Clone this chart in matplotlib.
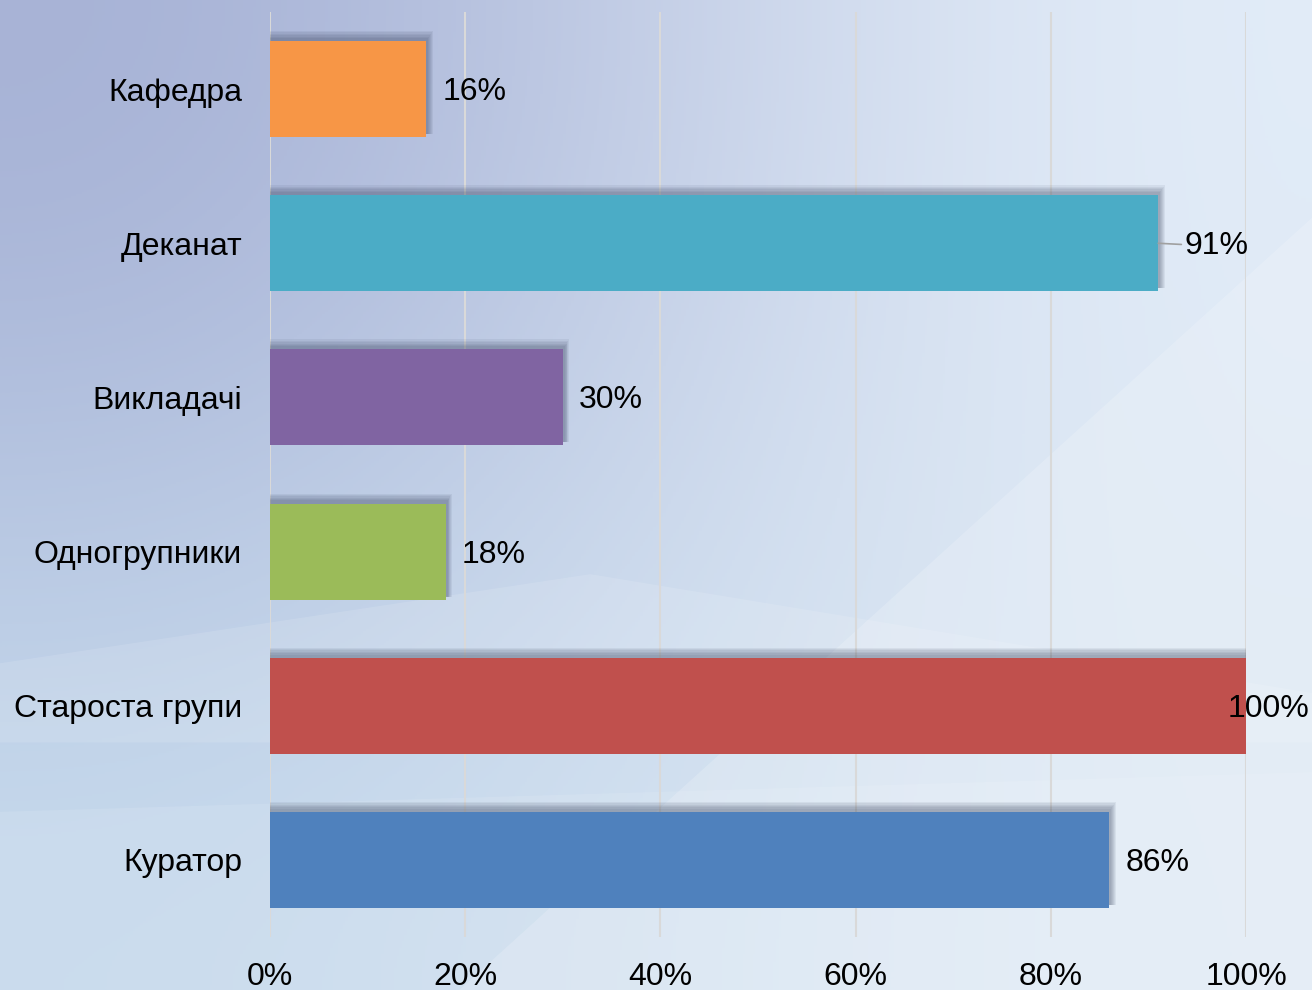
import numpy as np
import matplotlib
matplotlib.use("Agg")
import matplotlib.pyplot as plt
from matplotlib.patches import Polygon

categories = ["Куратор", "Староста групи", "Одногрупники", "Викладачі", "Деканат", "Кафедра"]
values = [86, 100, 18, 30, 91, 16]
colors = ["#4F81BD", "#C0504D", "#9BBB59", "#8064A2", "#4BACC6", "#F79646"]
xticks = [0, 20, 40, 60, 80, 100]

plt.rcParams["font.family"] = ["Liberation Sans", "DejaVu Sans"]

fig = plt.figure(figsize=(13.12, 9.9), dpi=100)

# background gradient
bg = fig.add_axes([0, 0, 1, 1], zorder=-10)
corners = np.array([[[164, 175, 212], [228, 238, 249]],
                    [[198, 218, 237], [222, 233, 244]]]) / 255.0
bg.imshow(corners, extent=[0, 1, 0, 1], interpolation="bicubic", aspect="auto")
bg.add_patch(Polygon([[0.35, 0.0], [1.0, 0.78], [1.0, 0.0]], closed=True,
                     facecolor="white", alpha=0.18, lw=0))
bg.add_patch(Polygon([[0.0, 0.33], [0.45, 0.42], [1.0, 0.3], [1.0, 0.25], [0.0, 0.25]],
                     closed=True, facecolor="white", alpha=0.12, lw=0))
bg.add_patch(Polygon([[0.0, 0.18], [1.0, 0.22], [1.0, 0.0], [0.0, 0.0]],
                     closed=True, facecolor="white", alpha=0.1, lw=0))
bg.set_xlim(0, 1)
bg.set_ylim(0, 1)
bg.axis("off")

ax = fig.add_axes([270 / 1312, 53 / 990, 976 / 1312, 925 / 990])
ax.patch.set_alpha(0)
y = np.arange(len(categories))
h = 0.623

# soft shadows, up and to the right
for k in range(6):
    grow = 0.009 * k
    ax.barh(y + 0.02 + grow / 2, [v + 0.2 + grow * 10 for v in values], height=h + grow,
            left=0, color="#2b3550", alpha=0.07, zorder=1, lw=0)

ax.barh(y, values, height=h, color=colors, zorder=3, lw=0)

for i, v in enumerate(values):
    if v == 100:
        ax.annotate(f"{v}%", (v, i), xytext=(-18, -3), textcoords="offset pixels",
                    va="center", ha="left", fontsize=23, zorder=5)
    elif v == 91:
        ax.annotate(f"{v}%", (v, i), xytext=(26, -3), textcoords="offset pixels",
                    va="center", ha="left", fontsize=23, zorder=5,
                    arrowprops=dict(arrowstyle="-", color="#A0A0A0", lw=1.2,
                                    shrinkA=0, shrinkB=0))
    else:
        ax.annotate(f"{v}%", (v, i), xytext=(16, -3), textcoords="offset pixels",
                    va="center", ha="left", fontsize=23, zorder=5)

ax.set_xlim(0, 100)
ax.set_ylim(-0.5, len(categories) - 0.5)
ax.set_yticks(y)
ax.set_yticklabels(categories, fontsize=23)
ax.set_xticks(xticks)
ax.set_xticklabels([f"{t}%" for t in xticks], fontsize=23)
ax.tick_params(axis="y", length=0, pad=20)
ax.tick_params(axis="x", length=0, pad=18)
ax.grid(axis="x", color="#D9D9D9", lw=1.5, zorder=0)
ax.set_axisbelow(True)
for s in ax.spines.values():
    s.set_visible(False)

fig.savefig("out.png", dpi=100)
